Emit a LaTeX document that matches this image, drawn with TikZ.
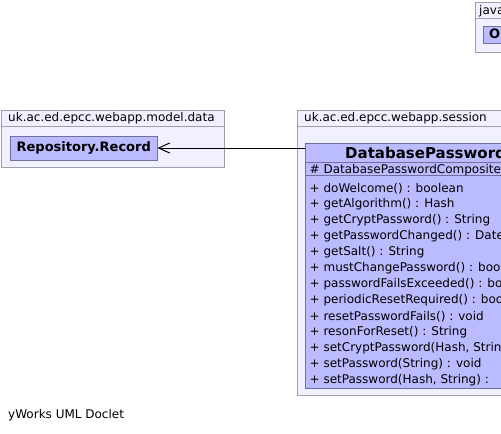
\documentclass[tikz,border=0pt]{standalone}
\usepackage{fontspec}
\setmainfont{DejaVu Sans}
\usetikzlibrary{arrows.meta, positioning}
\definecolor{pkgfill}{RGB}{240,240,255}
\definecolor{pkgdraw}{RGB}{160,160,172}
\definecolor{clsfill}{RGB}{187,187,255}
\definecolor{clsdraw}{RGB}{112,112,160}
\tikzset{
    pkg/.style={draw=pkgdraw, fill=pkgfill, line width=1pt},
    cls/.style={draw=clsdraw, fill=clsfill, line width=1pt},
    txt/.style={anchor=west, inner sep=0pt, font=\fontsize{12}{14}\selectfont},
    bold/.style={anchor=west, inner sep=0pt, font=\fontsize{13}{15}\bfseries},
    dep/.style={line width=1pt, -{Straight Barb[length=11pt,width=10pt,line width=1pt]}}
}

\begin{document}
\begin{tikzpicture}[x=1pt, y=-1pt]
                \useasboundingbox (0,0) rectangle (501,434);
                \fill[white] (0,0) rectangle (501,434);
                \clip (0,0) rectangle (501,434);
                % java package, top right
                \draw[pkg] (475,2.5) rectangle (560,52);
                \draw[pkgdraw, line width=1pt] (475,18.5) -- (560,18.5);
                \node[txt] (javalbl) at (479,11) {java};
                \draw[cls] (483,26.5) rectangle (560,43);
                \node[bold] (obj) at (489,35) {Object};
                % model.data package
                \draw[pkg] (1.5,110.5) rectangle (224.5,167);
                \draw[pkgdraw, line width=1pt] (1.5,126.5) -- (224.5,126.5);
                \node[txt] (datalbl) at (8,118.5) {uk.ac.ed.epcc.webapp.model.data};
                \node[cls, anchor=north west, minimum width=146.5pt, minimum height=24pt,
                      inner sep=0pt, font=\fontsize{13}{15}\bfseries] (rec) at (10,135.5) {Repository.Record};
                % session package
                \draw[pkg] (297,110.5) rectangle (560,395.5);
                \draw[pkgdraw, line width=1pt] (297,126.5) -- (560,126.5);
                \node[txt] (seslbl) at (304,118.5) {uk.ac.ed.epcc.webapp.session};
                \node[cls, anchor=north west, minimum width=255pt, minimum height=245pt,
                      inner sep=0pt] (dbpw) at (305,143) {};
                \draw[clsdraw, line width=1pt] (305,162.5) -- (560,162.5);
                \draw[clsdraw, line width=1pt] (305,175) -- (560,175);
                \node[anchor=west, inner sep=0pt, font=\fontsize{15}{17}\bfseries] (dbname) at (345,153) {DatabasePassword};
                \node[txt] (attr) at (309.5,170) {\# DatabasePasswordComposite};
                \foreach \m [count=\i from 0] in {doWelcome() : boolean, getAlgorithm() : Hash,
                        getCryptPassword() : String, getPasswordChanged() : Date, getSalt() : String,
                        mustChangePassword() : boolean, passwordFailsExceeded() : boolean,
                        periodicResetRequired() : boolean, resetPasswordFails() : void,
                        resonForReset() : String, {setCryptPassword(Hash, String)},
                        setPassword(String) : void, {setPassword(Hash, String) :}}
                    \node[txt] (m\i) at (309.5,188.7+15.95*\i) {+ \m};
                % dependency
                \draw[dep] (rec.east -| dbpw.west) -- (rec.east);
                \node[txt] (doclet) at (8,415.5) {yWorks UML Doclet};
            \end{tikzpicture}
\end{document}
